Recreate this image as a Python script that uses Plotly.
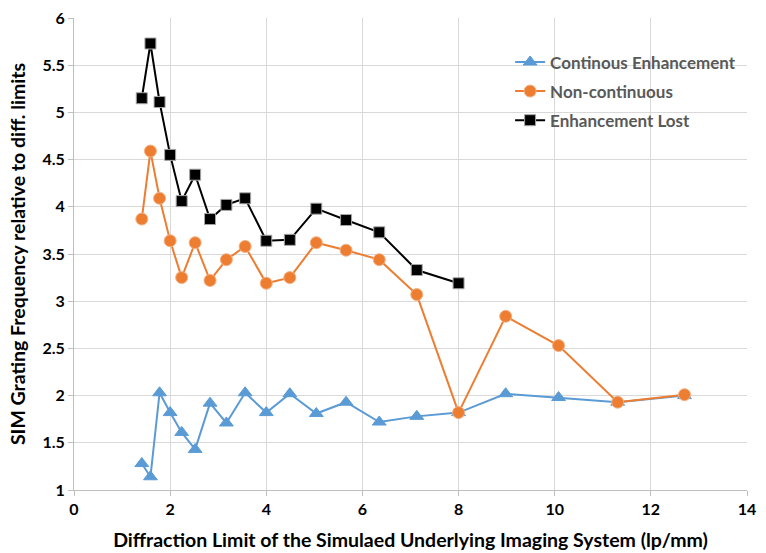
import plotly.graph_objects as go

x_all = [1.41, 1.59, 1.78, 2.0, 2.24, 2.52, 2.83, 3.17, 3.56, 4.0,
         4.49, 5.04, 5.66, 6.35, 7.13, 8.0, 8.98, 10.08, 11.31, 12.7]
x_lost = x_all[:16]

continuous = [1.28, 1.14, 2.03, 1.82, 1.61, 1.43, 1.92, 1.71, 2.03, 1.82,
              2.02, 1.81, 1.93, 1.72, 1.78, 1.82, 2.02, 1.98, 1.93, 2.0]
non_continuous = [3.87, 4.59, 4.09, 3.64, 3.25, 3.62, 3.22, 3.44, 3.58, 3.19,
                  3.25, 3.62, 3.54, 3.44, 3.07, 1.82, 2.84, 2.53, 1.93, 2.01]
enh_lost = [5.15, 5.73, 5.11, 4.55, 4.06, 4.34, 3.87, 4.02, 4.09, 3.64,
            3.65, 3.98, 3.86, 3.73, 3.33, 3.19]

names = ["Continous Enhancement", "Non-continuous", "Enhancement Lost"]
y_ticks = [1, 1.5, 2, 2.5, 3, 3.5, 4, 4.5, 5, 5.5, 6]
x_ticks = [0, 2, 4, 6, 8, 10, 12, 14]

FONT = "Lato"

fig = go.Figure()
fig.add_trace(go.Scatter(
    x=x_all, y=continuous, name=names[0], mode="lines+markers", legendgroup="a",
    line=dict(color="#5B9BD5", width=2),
    marker=dict(symbol="triangle-up", size=12, color="#5B9BD5",
                line=dict(color="#5B9BD5", width=1))))
fig.add_trace(go.Scatter(
    x=x_all, y=non_continuous, name=names[1], mode="lines+markers", legendgroup="b",
    line=dict(color="#ED7D31", width=2),
    marker=dict(symbol="circle", size=12, color="#ED7D31",
                line=dict(color="#F4B183", width=1))))
fig.add_trace(go.Scatter(
    x=x_lost, y=enh_lost, name=names[2], mode="lines+markers", legendgroup="c",
    line=dict(color="#000000", width=2),
    marker=dict(symbol="square", size=11, color="#000000",
                line=dict(color="#A6A6A6", width=1))))

fig.update_layout(
    width=766, height=553,
    margin=dict(l=74, r=19, t=18, b=63),
    paper_bgcolor="white", plot_bgcolor="white",
    font=dict(family=FONT, color="#000000"),
    showlegend=True,
    legend=dict(x=0.648, y=0.944, xanchor="left", yanchor="top",
                bgcolor="rgba(0,0,0,0)", traceorder="grouped", tracegroupgap=4,
                font=dict(family=FONT, size=17, color="#595959", weight="bold"),
                itemwidth=30),
    xaxis=dict(range=[0, 14], tickvals=x_ticks, ticktext=[str(v) for v in x_ticks],
               showgrid=True, gridcolor="#D9D9D9", gridwidth=1,
               showline=True, linecolor="#BFBFBF", linewidth=1,
               ticks="outside", ticklen=5, tickcolor="#BFBFBF",
               zeroline=False, automargin=False,
               tickfont=dict(family=FONT, size=16, color="#000000", weight="bold"),
               title=dict(text="Diffraction Limit of the Simulaed Underlying Imaging System (lp/mm)",
                          font=dict(family=FONT, size=19.5, color="#000000", weight="bold"),
                          standoff=16)),
    yaxis=dict(range=[1, 6], tickvals=y_ticks, ticktext=[str(v) for v in y_ticks],
               showgrid=True, gridcolor="#D9D9D9", gridwidth=1,
               showline=True, linecolor="#BFBFBF", linewidth=1,
               ticks="outside", ticklen=5, tickcolor="#BFBFBF",
               zeroline=False, automargin=False,
               tickfont=dict(family=FONT, size=16, color="#000000", weight="bold"),
               title=dict(text="SIM Grating Frequency relative to diff. limits",
                          font=dict(family=FONT, size=19.5, color="#000000", weight="bold"),
                          standoff=11)),
)

fig.write_html("out.html", config={"displayModeBar": False},
               post_script="document.body.style.margin='0';")
